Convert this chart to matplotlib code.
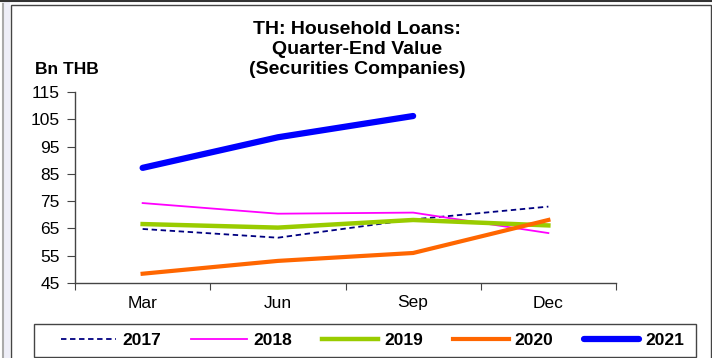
import matplotlib
matplotlib.use("Agg")
import matplotlib.pyplot as plt
from matplotlib.patches import Rectangle
from matplotlib.lines import Line2D

plt.rcParams['font.family'] = ['Liberation Sans', 'DejaVu Sans']

quarters = ["Mar", "Jun", "Sep", "Dec"]
y2017 = [64.8, 61.6, 68.3, 73.0]
y2018 = [74.3, 70.4, 70.8, 63.3]
y2019 = [66.6, 65.3, 68.1, 66.1]
y2020 = [48.4, 53.1, 56.0, 68.1]
y2021 = [87.2, 98.4, 106.2]
yticks = [45, 55, 65, 75, 85, 95, 105, 115]

W, H = 712, 358
fig = plt.figure(figsize=(W / 100, H / 100), dpi=100)

# outer frame decorations
fig.patches.append(Rectangle((2 / W, 0), 8 / W, 1, transform=fig.transFigure,
                             facecolor="#eeeef8", edgecolor="none", zorder=0))
fig.lines.append(Line2D([3 / W, 3 / W], [0, 1 - 4 / H], transform=fig.transFigure,
                        color="#aaaaaa", lw=1.5))
fig.lines.append(Line2D([0, 1], [1 - 1 / H, 1 - 1 / H], transform=fig.transFigure,
                        color="#333333", lw=1.5))
fig.patches.append(Rectangle((11 / W, -0.01), 699.5 / W, 1 - 5 / H + 0.01,
                             transform=fig.transFigure, facecolor="white",
                             edgecolor="#444444", lw=1.0, zorder=1))
# legend box
fig.patches.append(Rectangle((34 / W, 1 - 357 / H), 662 / W, 33 / H,
                             transform=fig.transFigure, facecolor="white",
                             edgecolor="#444444", lw=1.0, zorder=2))

ax = fig.add_axes([75 / W, 1 - 283 / H, 541 / W, 191 / H])
ax.set_zorder(2)
ax.patch.set_alpha(0)

x = list(range(len(quarters)))
ax.plot(x, y2017, color="#000080", lw=1.3, ls=(0, (3, 2)), label="2017")
ax.plot(x, y2018, color="#FF00FF", lw=1.3, label="2018")
ax.plot(x, y2019, color="#99CC00", lw=3.2, label="2019")
ax.plot(x, y2020, color="#FF6600", lw=3.0, label="2020")
ax.plot(x[:len(y2021)], y2021, color="#0000FF", lw=4.5, label="2021",
        solid_capstyle="round")

ax.set_xlim(-0.5, 3.5)
ax.set_ylim(45, 115)
ax.set_yticks(yticks)
ax.set_yticklabels([str(v) for v in yticks])
ax.set_xticks([-0.5, 0.5, 1.5, 2.5, 3.5])
ax.set_xticklabels([])
ax.set_xticks(x, minor=True)
ax.set_xticklabels(quarters, minor=True)
ax.tick_params(axis="x", which="major", direction="out", length=5, color="#444444")
ax.tick_params(axis="x", which="minor", length=0, pad=9, labelsize=12.5)
ax.tick_params(axis="y", direction="out", length=6, pad=5, labelsize=12.5, color="#444444")
for s in ["top", "right"]:
    ax.spines[s].set_visible(False)
for s in ["left", "bottom"]:
    ax.spines[s].set_color("#444444")
    ax.spines[s].set_linewidth(1.0)

fig.text(357 / W, 1 - 49.5 / H, "TH: Household Loans:\nQuarter-End Value\n(Securities Companies)",
         ha="center", va="center", fontsize=14, fontweight="bold", linespacing=1.2)
fig.text(35 / W, 1 - 69 / H, "Bn THB", ha="left", va="center", fontsize=12.5,
         fontweight="bold")

leg = fig.legend(loc="center", bbox_to_anchor=(372.5 / W, 1 - 340.5 / H), ncol=5,
                 prop={"weight": "bold", "size": 12.5}, handlelength=3.2,
                 handletextpad=0.35, columnspacing=1.75, frameon=False,
                 borderpad=0.2)
leg.set_zorder(3)

fig.savefig("out.png", dpi=100)
